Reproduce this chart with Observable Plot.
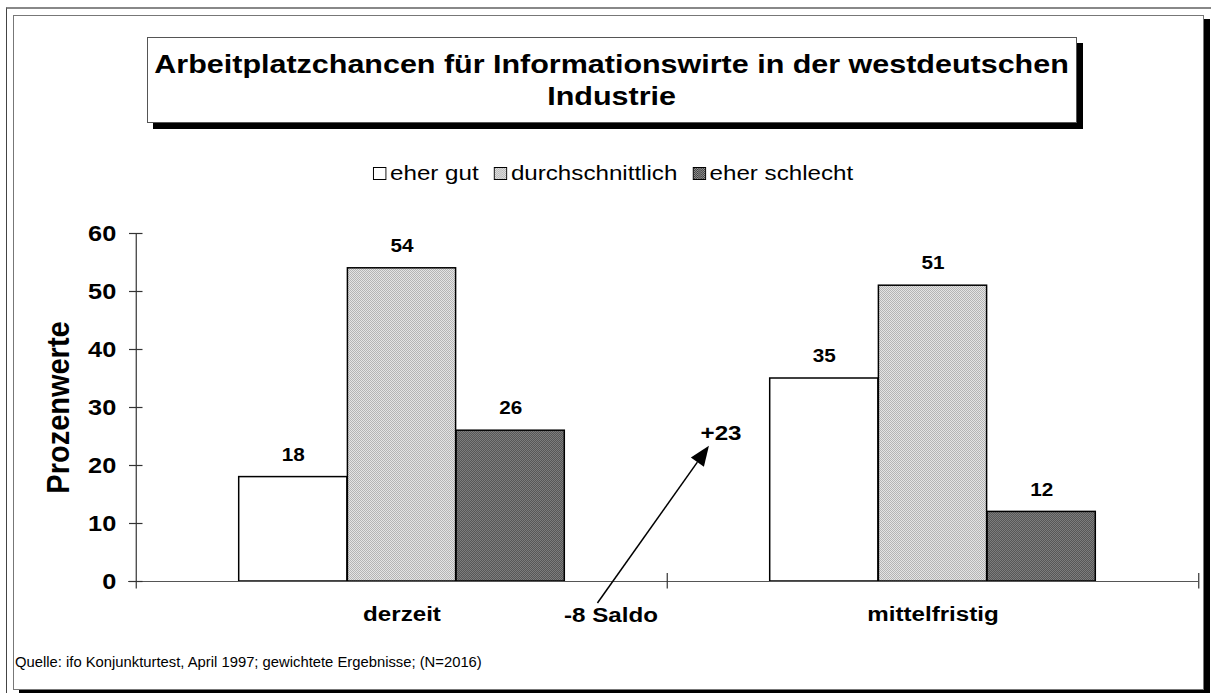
<!DOCTYPE html>
<html><head><meta charset="utf-8">
<script src="https://cdn.jsdelivr.net/npm/d3@7"></script>
<script src="https://cdn.jsdelivr.net/npm/@observablehq/plot@0.6"></script>
<style>
body{margin:0;background:#fff;}
#wrap{position:relative;width:1211px;height:693px;overflow:hidden;font-family:"Liberation Sans",Arial,sans-serif;background:#fff;}
.outer{position:absolute;left:6px;top:7px;width:1210px;height:690px;border-left:1px solid #444;border-top:2px solid #888;}
.inner{position:absolute;left:13px;top:15px;width:1189px;height:673px;border:1px solid #777;box-shadow:6px 4px 0 #000;background:#fff;}
.titlebox{position:absolute;left:147px;top:37px;width:928px;height:84px;border:1px solid #555;box-shadow:6px 6px 0 #000;background:#fff;
  display:flex;align-items:center;justify-content:center;text-align:center;color:#000;}
#title{font-weight:bold;font-size:26.5px;line-height:32px;transform:scaleX(1.15);white-space:nowrap;}
.legend{position:absolute;left:613px;top:161px;display:flex;align-items:center;font-size:21px;color:#000;white-space:nowrap;
  transform:translateX(-50%) scaleX(1.15);}
.legend .item{display:flex;align-items:center;margin-right:13px;}
.legend .item:last-child{margin-right:0;}
.legend svg{margin-right:3px;}
.source{position:absolute;left:15px;top:654px;font-size:14.8px;color:#000;white-space:nowrap;}
#chart{position:absolute;left:0;top:0;}
</style>
</head><body>
<svg width="0" height="0" style="position:absolute">
  <defs>
    <pattern id="pLight" width="2" height="2" patternUnits="userSpaceOnUse">
      <rect width="2" height="2" fill="#e4e4e4"/>
      <rect width="1" height="1" fill="#b4b4b4"/>
      <rect x="1" y="1" width="1" height="1" fill="#b4b4b4"/>
    </pattern>
    <pattern id="pDark" width="2" height="2" patternUnits="userSpaceOnUse">
      <rect width="2" height="2" fill="#9a9a9a"/>
      <rect width="1" height="1" fill="#3a3a3a"/>
      <rect x="1" y="1" width="1" height="1" fill="#3a3a3a"/>
    </pattern>
  </defs>
</svg>
<div id="wrap">
  <div class="outer"></div>
  <div class="inner"></div>
  <div class="titlebox"><div id="title"></div></div>
  <div class="legend" id="legend"></div>
  <div id="chart"></div>
  <div class="source" id="source"></div>
</div>
<script>
// ---- data ----
const categories = ["derzeit", "mittelfristig"];
const seriesNames = ["eher gut", "durchschnittlich", "eher schlecht"];
const eherGut = [18, 35];
const durchschnittlich = [54, 51];
const eherSchlecht = [26, 12];
const yTicks = [0, 10, 20, 30, 40, 50, 60];
const saldoStart = "-8 Saldo";
const saldoEnd = "+23";
const titleLines = ["Arbeitplatzchancen für Informationswirte in der westdeutschen", "Industrie"];
const yLabel = "Prozenwerte";
const sourceNote = "Quelle: ifo Konjunkturtest, April 1997; gewichtete Ergebnisse; (N=2016)";

// ---- build ----
const seriesValues = [eherGut, durchschnittlich, eherSchlecht];
const fills = ["#ffffff", "url(#pLight)", "url(#pDark)"];
const rows = [];
seriesNames.forEach((s, i) => categories.forEach((c, j) => rows.push({series: s, si: i, cat: c, value: seriesValues[i][j]})));

document.getElementById("title").innerHTML = titleLines.join("<br>");
document.getElementById("source").textContent = sourceNote;
const legend = document.getElementById("legend");
seriesNames.forEach((s, i) => {
  const item = document.createElement("div");
  item.className = "item";
  item.innerHTML = `<svg width="12" height="13"><rect x="0.5" y="0.5" width="11" height="12" fill="${fills[i]}" stroke="#000" stroke-width="1"/></svg><span>${s}</span>`;
  legend.appendChild(item);
});

const W = 1211, H = 693, mL = 135, mR = 13, mT = 233, mB = 112;
const bw = (W - mL - mR) / categories.length;
const barW = 108.7;
const inset = (bw - barW) / 2;
const bold = {fontWeight: "bold", fill: "#000"};

const arrowMark = (index, scales) => {
  const x = scales.x, y = scales.y;
  const b = x.bandwidth ? x.bandwidth() : bw;
  const x1 = x(categories[0]) + b * 0.869, y1 = y(-3.8);
  const x2 = x(categories[1]) + b * 0.079, y2 = y(23.3);
  const ang = Math.atan2(y2 - y1, x2 - x1);
  const len = 20, half = 8;
  const bx = x2 - len * Math.cos(ang), by = y2 - len * Math.sin(ang);
  const px = -Math.sin(ang) * half, py = Math.cos(ang) * half;
  const g = d3.create("svg:g");
  g.append("line").attr("x1", x1).attr("y1", y1).attr("x2", bx).attr("y2", by).attr("stroke", "#000").attr("stroke-width", 1.5);
  g.append("path").attr("d", `M${x2},${y2}L${bx + px},${by + py}L${bx - px},${by - py}Z`).attr("fill", "#000");
  return g.node();
};

const plot = Plot.plot({
  width: W, height: H,
  marginLeft: mL, marginRight: mR, marginTop: mT, marginBottom: mB,
  style: {background: "transparent", fontFamily: "Liberation Sans, Arial, sans-serif", color: "#000", overflow: "visible"},
  x: {type: "band", domain: categories, paddingInner: 0, paddingOuter: 0, axis: null},
  y: {domain: [0, 60], axis: null},
  marks: [
    ...seriesNames.map((s, i) => Plot.barY(rows.filter(r => r.si === i), {
      x: "cat", y: "value", fill: fills[i], stroke: "#000", strokeWidth: 1.5,
      insetLeft: inset, insetRight: inset, dx: (i - 1) * barW
    })),
    ...seriesNames.map((s, i) => Plot.text(rows.filter(r => r.si === i), {
      x: "cat", y: "value", text: d => String(d.value), dx: (i - 1) * barW, dy: -22, fontSize: 18, ...bold
    })),
    // x axis line
    Plot.ruleY([0], {y: d => d, stroke: "#555", strokeWidth: 1.2, insetLeft: -7}),
    // y axis line
    Plot.ruleX([categories[0]], {x: d => d, dx: -bw / 2, y1: 60, y2: -1.3, stroke: "#333", strokeWidth: 1.2}),
    // y cross ticks
    Plot.ruleY(yTicks, {y: d => d, x1: () => categories[0], x2: () => categories[0], insetLeft: -7, insetRight: bw - 7, stroke: "#333", strokeWidth: 1.2}),
    // category boundary ticks
    Plot.ruleX(categories.slice(1), {x: d => d, dx: -bw / 2, y1: -1.3, y2: 1.4, stroke: "#333", strokeWidth: 1.2}),
    Plot.ruleX(categories.slice(-1), {x: d => d, dx: bw / 2, y1: -1.3, y2: 1.4, stroke: "#333", strokeWidth: 1.2}),
    // y tick labels
    Plot.text(yTicks, {x: () => categories[0], y: d => d, text: d => String(d), dx: -bw / 2 - 20, textAnchor: "end", fontSize: 22, ...bold}),
    // category labels
    Plot.text(categories, {x: d => d, text: d => d, frameAnchor: "bottom", dy: 39, fontSize: 21, ...bold}),
    // y label
    Plot.text([yLabel], {text: d => d, frameAnchor: "left", textAnchor: "middle", dx: -77, rotate: -90, fontSize: 29, ...bold}),
    // saldo annotation
    Plot.text([saldoStart], {x: () => categories[0], y: () => -5.9, text: d => d, dx: 209, fontSize: 21, ...bold}),
    Plot.text([saldoEnd], {x: () => categories[1], y: () => 25.5, text: d => d, dx: -212, fontSize: 21, ...bold}),
    arrowMark
  ]
});

// widen glyphs horizontally like the reference rendering
const isNum = v => v != null && v !== "" && isFinite(+v);
plot.querySelectorAll("text").forEach(t => {
  let tr = t.getAttribute("transform") || "";
  const ax = t.getAttribute("x"), ay = t.getAttribute("y");
  const tx = isNum(ax) ? +ax : 0, ty = isNum(ay) ? +ay : 0;
  if (isNum(ax)) t.removeAttribute("x");
  if (isNum(ay)) t.removeAttribute("y");
  if (tx || ty) tr = `${tr} translate(${tx},${ty})`;
  const s = /rotate/.test(tr) ? "scale(1,1.1)" : "scale(1.15,1)";
  t.setAttribute("transform", `${tr} ${s}`.trim());
});
document.getElementById("chart").appendChild(plot);
</script>
</body></html>
